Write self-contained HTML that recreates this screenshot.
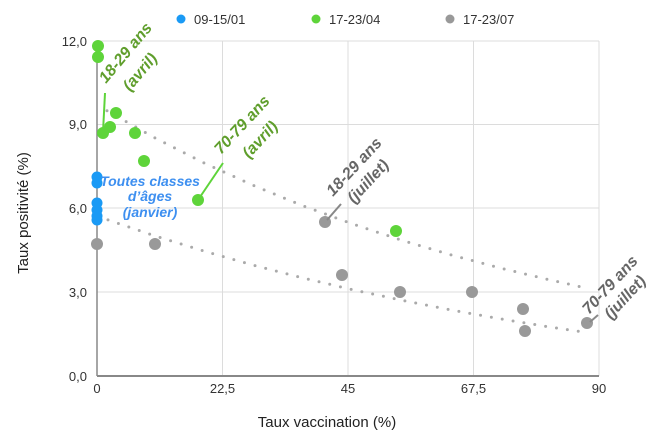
<!DOCTYPE html>
<html><head><meta charset="utf-8"><style>
html,body{margin:0;padding:0;background:#fff;}
svg{display:block;font-family:"Liberation Sans",Arial,sans-serif;}
</style></head><body>
<svg width="661" height="447" viewBox="0 0 661 447" xmlns="http://www.w3.org/2000/svg">
<rect width="661" height="447" fill="#fff"/>
<g stroke="#dcdcdc" stroke-width="1">
<line x1="97" y1="41" x2="599" y2="41"/>
<line x1="97" y1="124.5" x2="599" y2="124.5"/>
<line x1="97" y1="208" x2="599" y2="208"/>
<line x1="97" y1="292" x2="599" y2="292"/>
<line x1="222.5" y1="41" x2="222.5" y2="376"/>
<line x1="348" y1="41" x2="348" y2="376"/>
<line x1="473.5" y1="41" x2="473.5" y2="376"/>
<line x1="599" y1="41" x2="599" y2="376"/>
</g>
<line x1="97" y1="41" x2="97" y2="376" stroke="#888" stroke-width="1.5"/>
<line x1="97" y1="376" x2="599" y2="376" stroke="#888" stroke-width="2"/>
<g font-size="13" fill="#333" text-anchor="end">
<text x="87" y="46">12,0</text>
<text x="87" y="129">9,0</text>
<text x="87" y="213">6,0</text>
<text x="87" y="297">3,0</text>
<text x="87" y="381">0,0</text>
</g>
<g font-size="13" fill="#333" text-anchor="middle">
<text x="97" y="393">0</text>
<text x="222.5" y="393">22,5</text>
<text x="348" y="393">45</text>
<text x="473.5" y="393">67,5</text>
<text x="599" y="393">90</text>
</g>
<text x="327" y="427" font-size="15" fill="#222" text-anchor="middle">Taux vaccination (%)</text>
<text transform="translate(28,213) rotate(-90)" font-size="15" fill="#222" text-anchor="middle">Taux positivité (%)</text>
<circle cx="181" cy="19" r="4.5" fill="#1a9af5"/>
<text x="194" y="24" font-size="13" fill="#333">09-15/01</text>
<circle cx="316" cy="19" r="4.5" fill="#5ed43a"/>
<text x="329" y="24" font-size="13" fill="#333">17-23/04</text>
<circle cx="450" cy="19" r="4.5" fill="#999"/>
<text x="463" y="24" font-size="13" fill="#333">17-23/07</text>
<polyline fill="none" stroke="#aaa" stroke-width="3" stroke-linecap="round" stroke-dasharray="0 11" points="107,110.8 156,138.5 205,163.4 254,185.7 303,205.8 352,223.8 401,240 450,254.6 499,267.7 548,279.5 587,288.2"/>
<polyline fill="none" stroke="#aaa" stroke-width="3" stroke-linecap="round" stroke-dasharray="0 11" points="108,219.9 157,236.6 206,251.7 255,265.6 304,278.2 353,289.8 402,300.3 451,310 500,318.8 549,326.9 587,332.6"/>
<g fill="#1a9af5">
<circle cx="97" cy="177" r="5.5"/><circle cx="97" cy="183" r="5.5"/>
<circle cx="97" cy="203" r="5.5"/><circle cx="97" cy="210" r="5.5"/>
<circle cx="97" cy="216" r="5.5"/><circle cx="97" cy="220" r="5.5"/>
</g>
<g fill="#5ed43a">
<circle cx="98" cy="46" r="6"/><circle cx="98" cy="57" r="6"/>
<circle cx="103" cy="133" r="6"/><circle cx="110" cy="127" r="6"/>
<circle cx="116" cy="113" r="6"/><circle cx="135" cy="133" r="6"/>
<circle cx="144" cy="161" r="6"/><circle cx="198" cy="200" r="6"/>
<circle cx="396" cy="231" r="6"/>
</g>
<g fill="#999">
<circle cx="97" cy="244" r="6"/><circle cx="155" cy="244" r="6"/>
<circle cx="325" cy="222" r="6"/><circle cx="342" cy="275" r="6"/>
<circle cx="400" cy="292" r="6"/><circle cx="472" cy="292" r="6"/>
<circle cx="523" cy="309" r="6"/><circle cx="525" cy="331" r="6"/>
<circle cx="587" cy="323" r="6"/>
</g>
<line x1="105" y1="93" x2="103" y2="132" stroke="#5ed43a" stroke-width="2"/>
<line x1="198" y1="200" x2="223" y2="163" stroke="#5ed43a" stroke-width="2"/>
<line x1="327" y1="220" x2="341" y2="204" stroke="#888" stroke-width="2"/>
<line x1="590" y1="322" x2="598" y2="315" stroke="#888" stroke-width="2"/>
<g font-size="16" font-weight="bold" font-style="italic" fill="#5f9e2c">
<text transform="translate(106,84) rotate(-50)">18-29 ans</text>
<text transform="translate(130,92) rotate(-50)">(avril)</text>
<text transform="translate(221,155) rotate(-47)">70-79 ans</text>
<text transform="translate(249,159) rotate(-47)">(avril)</text>
</g>
<g font-size="16" font-weight="bold" font-style="italic" fill="#666">
<text transform="translate(333,197) rotate(-47)">18-29 ans</text>
<text transform="translate(354,204) rotate(-47)">(juillet)</text>
<text transform="translate(589,315) rotate(-47)">70-79 ans</text>
<text transform="translate(611,320) rotate(-47)">(juillet)</text>
</g>
<g font-size="14" font-weight="bold" font-style="italic" fill="#3d8ff0" text-anchor="middle">
<text x="150" y="186">Toutes classes</text>
<text x="150" y="201">d’âges</text>
<text x="150" y="217">(janvier)</text>
</g>
</svg>
</body></html>
